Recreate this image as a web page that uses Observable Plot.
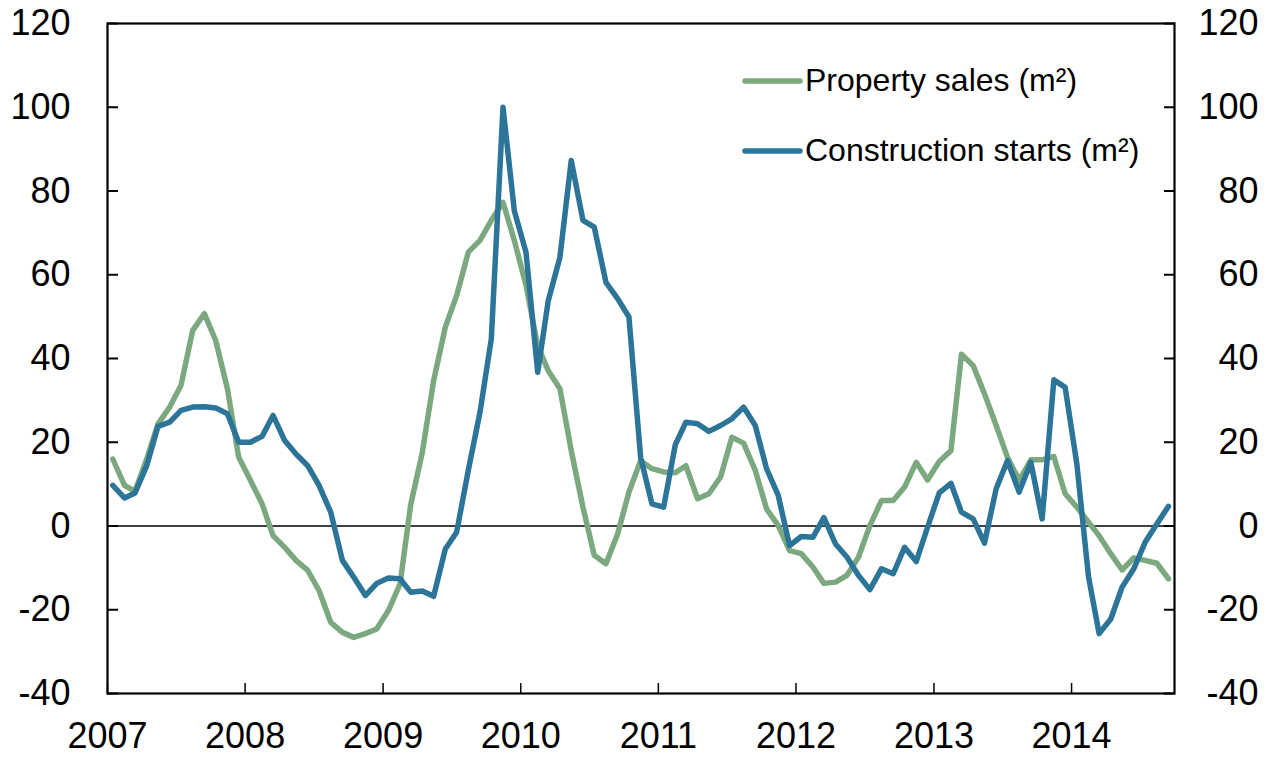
<!DOCTYPE html>
<html>
<head>
<meta charset="utf-8">
<script src="https://cdn.jsdelivr.net/npm/d3@7"></script>
<script src="https://cdn.jsdelivr.net/npm/@observablehq/plot@0.6"></script>
<style>
  html, body { margin: 0; padding: 0; background: #fff; }
  #chart { position: relative; width: 1274px; height: 757px; }
  svg { font-family: "Liberation Sans", Arial, sans-serif; }
</style>
</head>
<body>
<div id="chart"></div>
<script>
// Monthly categories: Jan 2007 .. Sep 2014 (plotted mid-month)
const startMonth = "2007-01";
const endMonth = "2014-09";
const seriesNames = ["Property sales (m²)", "Construction starts (m²)"];
const seriesColors = ["#7ba87e", "#2c7598"];
const yTicks = [-40, -20, 0, 20, 40, 60, 80, 100, 120];
const xTickYears = [2007, 2008, 2009, 2010, 2011, 2012, 2013, 2014];

const propertySales = [
  16.0, 9.7, 8.3, 16.0, 24.4, 28.4, 33.6, 46.7, 50.7, 44.3, 32.8, 16.4,
  10.9, 5.3, -2.3, -5.1, -8.2, -10.6, -15.4, -23.0, -25.4, -26.6, -25.7, -24.6,
  -20.2, -13.8, 5.0, 17.6, 34.7, 47.5, 55.0, 65.4, 68.2, 73.0, 77.3, 68.2,
  57.5, 43.0, 37.1, 32.8, 18.0, 4.5, -7.0, -9.0, -1.9, 8.1, 15.6, 13.7,
  12.9, 12.7, 14.4, 6.5, 7.7, 11.7, 21.2, 19.8, 13.3, 4.1, 0.1, -5.9,
  -6.6, -9.8, -13.7, -13.4, -11.8, -7.4, 0.1, 6.1, 6.1, 9.3, 15.2, 11.0,
  15.4, 18.0, 41.0, 38.3, 31.6, 24.0, 16.4, 10.9, 15.8, 15.8, 16.6, 7.7,
  4.5, 0.9, -2.3, -6.6, -10.5, -7.6, -8.2, -8.9, -12.6
];

const constructionStarts = [
  9.7, 6.7, 7.9, 14.4, 23.8, 24.8, 27.6, 28.4, 28.5, 28.2, 26.8, 20.0,
  20.0, 21.4, 26.4, 20.4, 17.2, 14.4, 9.7, 3.3, -8.2, -12.2, -16.6, -13.7,
  -12.4, -12.6, -15.8, -15.5, -16.8, -5.5, -1.5, 13.3, 27.2, 44.7, 100.0, 75.3,
  65.4, 36.7, 53.8, 64.2, 87.3, 73.0, 71.4, 58.2, 54.3, 49.9, 16.4, 5.3,
  4.5, 19.4, 24.8, 24.4, 22.6, 24.0, 25.6, 28.4, 24.0, 13.7, 7.3, -4.7,
  -2.5, -2.7, 2.0, -4.3, -7.4, -11.8, -15.2, -10.2, -11.4, -5.1, -8.5, -0.3,
  7.9, 10.2, 3.3, 1.7, -4.1, 8.9, 15.6, 8.1, 15.2, 1.7, 34.9, 33.1,
  14.8, -12.2, -25.7, -22.2, -14.6, -10.2, -3.9, 0.5, 4.7
];

const monthStarts = d3.utcMonths(new Date(startMonth + "-01T00:00Z"), d3.utcMonth.offset(new Date(endMonth + "-01T00:00Z"), 1));
const dates = monthStarts.map(d => d3.utcDay.offset(d, 14));
const salesData = dates.map((d, i) => ({date: d, value: propertySales[i]}));
const startsData = dates.map((d, i) => ({date: d, value: constructionStarts[i]}));
const xDomain = [monthStarts[0], d3.utcMonth.offset(monthStarts[monthStarts.length - 1], 1)];
const yearDates = xTickYears.map(y => new Date(Date.UTC(y, 0, 1)));
const plainNumber = d => String(d);   // hyphen-minus like the reference
const noText = () => "";

const chart = Plot.plot({
  width: 1274,
  height: 757,
  marginLeft: 107,
  marginRight: 100,
  marginTop: 23,
  marginBottom: 64,
  style: {fontFamily: "'Liberation Sans', Arial, sans-serif", background: "white", color: "black"},
  x: {type: "utc", domain: xDomain},
  y: {domain: [-40, 120]},
  marks: [
    // tick labels
    Plot.axisY(yTicks, {anchor: "left", tickSize: 0, tickPadding: 37, fontSize: 36, tickFormat: plainNumber, label: null}),
    Plot.axisY(yTicks, {anchor: "right", tickSize: 0, tickPadding: 84, textAnchor: "end", fontSize: 36, tickFormat: plainNumber, label: null}),
    Plot.axisX(yearDates, {anchor: "bottom", tickSize: 0, tickPadding: 29, fontSize: 36, tickFormat: d3.utcFormat("%Y"), label: null}),
    // inward tick marks
    Plot.axisY(yTicks, {anchor: "left", tickSize: 11, dx: 11, tickFormat: noText, label: null, strokeWidth: 2}),
    Plot.axisY(yTicks, {anchor: "right", tickSize: 11, dx: -11, tickFormat: noText, label: null, strokeWidth: 2}),
    Plot.axisX(yearDates, {anchor: "bottom", tickSize: 10, dy: -10, tickFormat: noText, label: null, strokeWidth: 1.5}),
    Plot.ruleY([0], {stroke: "black", strokeWidth: 1.5}),
    Plot.lineY(salesData, {x: "date", y: "value", stroke: seriesColors[0], strokeWidth: 5.5, strokeLinejoin: "round", strokeLinecap: "round"}),
    Plot.lineY(startsData, {x: "date", y: "value", stroke: seriesColors[1], strokeWidth: 5.5, strokeLinejoin: "round", strokeLinecap: "round"}),
    Plot.frame({stroke: "black", strokeWidth: 2.2})
  ]
});

document.getElementById("chart").appendChild(chart);

// Legend inside the plot area
const svg = d3.select(chart);
const legendX = 745, legendY = 81, legendGap = 70;
seriesNames.forEach((name, i) => {
  const g = svg.append("g").attr("transform", `translate(${legendX},${legendY + i * legendGap})`);
  g.append("line").attr("x1", 0).attr("x2", 55).attr("y1", 0).attr("y2", 0)
    .attr("stroke", seriesColors[i]).attr("stroke-width", 5.5).attr("stroke-linecap", "round");
  g.append("text").attr("x", 60).attr("y", 10).attr("font-size", 32)
    .attr("text-anchor", "start").attr("fill", "black").text(name);
});
</script>
</body>
</html>
